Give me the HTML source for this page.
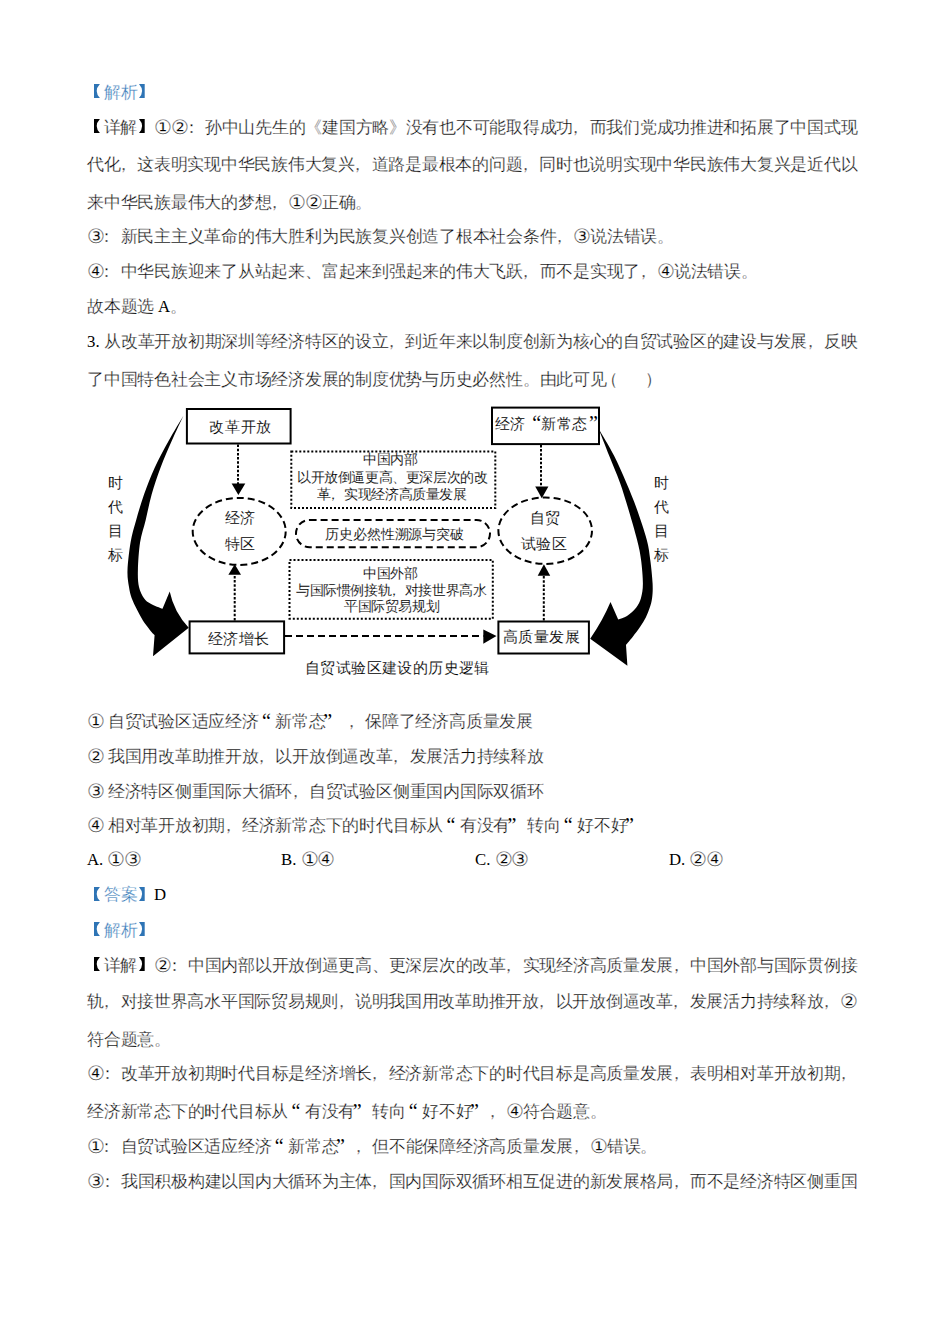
<!DOCTYPE html>
<html><head><meta charset="utf-8"><style>
html,body{margin:0;padding:0;background:#fff;width:950px;height:1344px;overflow:hidden}
body{position:relative;font-family:"Liberation Serif",serif;color:#000;-webkit-text-stroke:0.3px #fff}
.ln{position:absolute;left:87px;font-size:16.76px;line-height:20px;white-space:nowrap;letter-spacing:-0.24px}
.j{width:770px;text-align:justify;text-align-last:justify;letter-spacing:-0.6px}
.ln i{font-style:normal;font-size:20px;line-height:0;letter-spacing:-1.14px;position:relative;top:0.5px;-webkit-text-stroke:0.3px #fff}
.ln b{font-weight:normal;color:#2e74b5}
.ln em{font-style:normal;color:transparent;-webkit-text-stroke:0}
.br{position:absolute}
var{font-style:normal;position:relative;left:-5.5px}
.ln s{text-decoration:none;letter-spacing:0;-webkit-text-stroke:0}
.ql,.qr{display:inline-block;width:16.76px;text-decoration:none;letter-spacing:0;font-size:20px;line-height:0;-webkit-text-stroke:0;position:relative;top:1px}
.ql{text-align:right;padding-right:3px;box-sizing:border-box;left:-1.5px}
.qr{text-align:left;padding-left:0;box-sizing:border-box;left:-2.5px}
.dg{position:absolute;left:0;top:0}
.dt{position:absolute;-webkit-text-stroke:0.12px #fff;white-space:nowrap;font-size:15.4px;line-height:18px;letter-spacing:0.4px}
.ds{position:absolute;-webkit-text-stroke:0.12px #fff;white-space:nowrap;font-size:13.6px;line-height:17px;letter-spacing:-0.4px}
</style></head><body>
<div class="ln" style="top:83px"><b><em>【</em>解析<em>】</em></b></div>
<div class="ln j" style="top:118px"><em>【</em>详解<em>】</em><i>①</i><i>②</i><var>：</var>孙中山先生的《建国方略》没有也不可能取得成功<var>，</var>而我们党成功推进和拓展了中国式现</div>
<div class="ln j" style="top:155px">代化<var>，</var>这表明实现中华民族伟大复兴<var>，</var>道路是最根本的问题<var>，</var>同时也说明实现中华民族伟大复兴是近代以</div>
<div class="ln" style="top:193px">来中华民族最伟大的梦想<var>，</var><i>①</i><i>②</i>正确。</div>
<div class="ln" style="top:227px"><i>③</i><var>：</var>新民主主义革命的伟大胜利为民族复兴创造了根本社会条件<var>，</var><i>③</i>说法错误。</div>
<div class="ln" style="top:262px"><i>④</i><var>：</var>中华民族迎来了从站起来、富起来到强起来的伟大飞跃<var>，</var>而不是实现了<var>，</var><i>④</i>说法错误。</div>
<div class="ln" style="top:297px">故本题选 <s>A</s>。</div>
<div class="ln j" style="top:332px"><s>3. </s>从改革开放初期深圳等经济特区的设立<var>，</var>到近年来以制度创新为核心的自贸试验区的建设与发展<var>，</var>反映</div>
<div class="ln" style="top:370px">了中国特色社会主义市场经济发展的制度优势与历史必然性。由此可见<var>（</var><s style="margin-left:22px"></s>）</div>
<div class="ln" style="top:712px"><i>①</i> 自贸试验区适应经济<u class=ql>“</u>新常态<u class=qr>”</u><s style="margin-left:6px"></s><var>，</var>保障了经济高质量发展</div>
<div class="ln" style="top:747px"><i>②</i> 我国用改革助推开放<var>，</var>以开放倒逼改革<var>，</var>发展活力持续释放</div>
<div class="ln" style="top:782px"><i>③</i> 经济特区侧重国际大循环<var>，</var>自贸试验区侧重国内国际双循环</div>
<div class="ln" style="top:816px"><i>④</i> 相对革开放初期<var>，</var>经济新常态下的时代目标从<u class=ql>“</u>有没有<u class=qr>”</u>转向<u class=ql>“</u>好不好<u class=qr>”</u></div>
<div class="ln" style="top:885px"><b><em>【</em>答案<em>】</em></b><s>D</s></div>
<div class="ln" style="top:921px"><b><em>【</em>解析<em>】</em></b></div>
<div class="ln j" style="top:956px"><em>【</em>详解<em>】</em><i>②</i><var>：</var>中国内部以开放倒逼更高、更深层次的改革<var>，</var>实现经济高质量发展<var>，</var>中国外部与国际贯例接</div>
<div class="ln j" style="top:992px">轨<var>，</var>对接世界高水平国际贸易规则<var>，</var>说明我国用改革助推开放<var>，</var>以开放倒逼改革<var>，</var>发展活力持续释放<var>，</var><i>②</i></div>
<div class="ln" style="top:1030px">符合题意。</div>
<div class="ln j" style="top:1064px"><i>④</i><var>：</var>改革开放初期时代目标是经济增长<var>，</var>经济新常态下的时代目标是高质量发展<var>，</var>表明相对革开放初期<var>，</var></div>
<div class="ln" style="top:1102px">经济新常态下的时代目标从<u class=ql>“</u>有没有<u class=qr>”</u>转向<u class=ql>“</u>好不好<u class=qr>”</u><var>，</var><i>④</i>符合题意。</div>
<div class="ln" style="top:1137px"><i>①</i><var>：</var>自贸试验区适应经济<u class=ql>“</u>新常态<u class=qr>”</u><var>，</var>但不能保障经济高质量发展<var>，</var><i>①</i>错误。</div>
<div class="ln j" style="top:1172px"><i>③</i><var>：</var>我国积极构建以国内大循环为主体<var>，</var>国内国际双循环相互促进的新发展格局<var>，</var>而不是经济特区侧重国</div>
<svg class="br" style="left:94.3px;top:84.2px" width="6" height="14" viewBox="0 0 6 14"><path d="M0 0 H5.9 Q-0.5 7 5.9 14 H0 Z" fill="#2e74b5"/></svg>
<svg class="br" style="left:139.2px;top:84.2px" width="6" height="14" viewBox="0 0 6 14"><path d="M0 0 H5.7 V14 H0 Q6.2 7 0 0 Z" fill="#2e74b5"/></svg>
<svg class="br" style="left:94.3px;top:119.0px" width="6" height="14" viewBox="0 0 6 14"><path d="M0 0 H5.9 Q-0.5 7 5.9 14 H0 Z" fill="#000"/></svg>
<svg class="br" style="left:139.2px;top:119.0px" width="6" height="14" viewBox="0 0 6 14"><path d="M0 0 H5.7 V14 H0 Q6.2 7 0 0 Z" fill="#000"/></svg>
<svg class="br" style="left:94.3px;top:886.9px" width="6" height="14" viewBox="0 0 6 14"><path d="M0 0 H5.9 Q-0.5 7 5.9 14 H0 Z" fill="#2e74b5"/></svg>
<svg class="br" style="left:139.2px;top:886.9px" width="6" height="14" viewBox="0 0 6 14"><path d="M0 0 H5.7 V14 H0 Q6.2 7 0 0 Z" fill="#2e74b5"/></svg>
<svg class="br" style="left:94.3px;top:922.3px" width="6" height="14" viewBox="0 0 6 14"><path d="M0 0 H5.9 Q-0.5 7 5.9 14 H0 Z" fill="#2e74b5"/></svg>
<svg class="br" style="left:139.2px;top:922.3px" width="6" height="14" viewBox="0 0 6 14"><path d="M0 0 H5.7 V14 H0 Q6.2 7 0 0 Z" fill="#2e74b5"/></svg>
<svg class="br" style="left:94.3px;top:956.7px" width="6" height="14" viewBox="0 0 6 14"><path d="M0 0 H5.9 Q-0.5 7 5.9 14 H0 Z" fill="#000"/></svg>
<svg class="br" style="left:139.2px;top:956.7px" width="6" height="14" viewBox="0 0 6 14"><path d="M0 0 H5.7 V14 H0 Q6.2 7 0 0 Z" fill="#000"/></svg>
<div class="ln" style="top:850px;left:87px"><s>A. </s><i>①</i><i>③</i></div>
<div class="ln" style="top:850px;left:281px"><s>B. </s><i>①</i><i>④</i></div>
<div class="ln" style="top:850px;left:475px"><s>C. </s><i>②</i><i>③</i></div>
<div class="ln" style="top:850px;left:669px"><s>D. </s><i>②</i><i>④</i></div>
<svg class="dg" width="950" height="700" viewBox="0 0 950 700">
 <g fill="none" stroke="#000">
  <rect x="186.9" y="409" width="103.7" height="34.5" stroke-width="2"/>
  <rect x="492" y="407.6" width="107" height="36.5" stroke-width="2"/>
  <rect x="189.6" y="621.4" width="94.5" height="32" stroke-width="2"/>
  <rect x="498.4" y="621.5" width="90.5" height="32" stroke-width="2"/>
  <ellipse cx="239.2" cy="531.4" rx="46.5" ry="33.5" stroke-width="2" stroke-dasharray="7 4"/>
  <ellipse cx="545.2" cy="530.7" rx="46.8" ry="33.2" stroke-width="2" stroke-dasharray="7 4"/>
  <rect x="296" y="519.9" width="194" height="27.3" rx="13.6" stroke-width="2" stroke-dasharray="7 4"/>
  <rect x="291.3" y="451.4" width="204" height="56.7" stroke-width="2" stroke-dasharray="2 2"/>
  <rect x="289.5" y="560.1" width="203.3" height="58.7" stroke-width="2" stroke-dasharray="2 2"/>
  <line x1="238" y1="444.5" x2="238" y2="484" stroke-width="2" stroke-dasharray="2.5 1.7"/>
  <line x1="541" y1="444.9" x2="541" y2="487" stroke-width="2" stroke-dasharray="2.5 1.7"/>
  <line x1="234.7" y1="620.4" x2="234.7" y2="575" stroke-width="2" stroke-dasharray="2.5 1.7"/>
  <line x1="543.8" y1="620.5" x2="543.8" y2="576" stroke-width="2" stroke-dasharray="2.5 1.7"/>
  <line x1="285" y1="635.9" x2="483.5" y2="635.9" stroke-width="2" stroke-dasharray="7 4"/>
 </g>
 <g fill="#000">
  <path d="M231.6 483.4 L245.3 483.4 L238.4 495 Z"/>
  <path d="M535.2 486.6 L548.4 486.6 L541.8 498.2 Z"/>
  <path d="M228.4 574.7 L241 574.7 L234.7 564.2 Z"/>
  <path d="M537.7 575.8 L550.2 575.8 L543.9 564.3 Z"/>
  <path d="M483.3 629.5 L496.5 635.9 L483.3 643.8 Z"/>
  <path d="M183.4 415.7 C180.9 419.9 173.5 432.1 168.7 440.7 C163.9 449.3 158.9 458.6 154.8 467.5 C150.7 476.4 147.2 485.6 144.1 494.3 C141.0 503.1 138.4 512.0 136.2 520.0 C133.9 528.0 132.0 533.9 130.6 542.3 C129.2 550.7 127.8 562.8 127.5 570.2 C127.2 577.7 128.3 582.3 129.0 587.0 C129.7 591.7 130.4 594.5 131.7 598.2 C133.0 601.9 134.9 605.6 136.8 609.3 C138.7 613.0 140.5 616.8 142.9 620.5 C145.3 624.2 149.4 629.3 151.3 631.7 C153.2 634.1 154.1 634.5 154.6 635.0 L153 656.2 L188.7 627.7 Q174 612 169.7 591.5 L162.5 608.8 C160.5 607.9 153.8 605.5 150.7 603.7 C147.6 601.9 145.9 601.0 144.0 598.2 C142.1 595.4 140.0 591.7 139.0 587.0 C138.0 582.3 137.7 577.7 137.9 570.2 C138.1 562.8 138.8 550.7 140.1 542.3 C141.4 533.9 143.8 528.0 145.7 520.0 C147.6 512.0 149.2 503.1 151.7 494.3 C154.2 485.6 157.2 476.4 160.6 467.5 C163.9 458.6 168.0 449.3 171.8 440.7 C175.6 432.1 181.5 419.9 183.4 415.7 Z"/>
  <path d="M598.5 428.5 C601.1 433.0 609.5 446.7 614.1 455.7 C618.7 464.7 622.4 473.6 626.2 482.5 C630.0 491.4 633.5 499.7 636.9 509.3 C640.3 518.9 644.6 531.6 646.8 540.0 C649.0 548.4 649.2 552.1 650.2 559.4 C651.2 566.7 652.3 577.2 652.6 583.6 C652.9 590.0 652.6 594.0 652.1 598.0 C651.6 602.0 650.8 604.6 649.7 607.8 C648.7 611.0 647.4 614.2 645.8 617.4 C644.2 620.6 642.2 623.9 640.0 627.1 C637.8 630.3 635.1 633.8 632.8 636.8 C630.5 639.8 627.1 643.6 626.0 645.0 L627.4 665.8 L590.2 638.7 Q603 620 610.5 602 L618.2 619.4 C619.7 618.8 624.0 617.9 627.0 616.0 C630.0 614.1 633.8 610.8 636.1 607.8 C638.4 604.8 639.9 602.0 641.0 598.0 C642.1 594.0 642.9 590.0 642.9 583.6 C642.9 577.2 642.0 566.7 641.0 559.4 C640.0 552.1 639.2 548.4 637.1 540.0 C635.0 531.6 631.3 518.9 628.4 509.3 C625.5 499.7 623.1 491.4 619.9 482.5 C616.7 473.6 612.8 464.7 609.2 455.7 C605.6 446.7 600.3 433.0 598.5 428.5 Z"/>
 </g>
</svg>
<div class="dt" style="left:209px;top:418px;letter-spacing:0.8px">改革开放</div>
<div class="dt" style="left:495px;top:415px">经济<u class=ql style="width:15.4px;padding-right:1px;left:1px">“</u>新常态<u class=qr style="width:15.4px;left:1.5px">”</u></div>
<div class="dt" style="left:208px;top:630px">经济增长</div>
<div class="dt" style="left:503px;top:628px">高质量发展</div>
<div class="dt" style="left:225px;top:509px">经济</div>
<div class="dt" style="left:225px;top:535px">特区</div>
<div class="dt" style="left:530px;top:509px">自贸</div>
<div class="dt" style="left:521px;top:535px">试验区</div>
<div class="ds" style="left:325px;top:526px;font-size:13.9px;letter-spacing:-0.1px">历史必然性溯源与突破</div>
<div class="dt" style="left:305px;top:659px">自贸试验区建设的历史逻辑</div>
<div class="ds" style="left:363px;top:451px">中国内部</div>
<div class="ds" style="left:297px;top:469px">以开放倒逼更高、更深层次的改</div>
<div class="ds" style="left:317px;top:486px">革<var style="left:-4.5px">，</var>实现经济高质量发展</div>
<div class="ds" style="left:363px;top:565px">中国外部</div>
<div class="ds" style="left:296px;top:582px">与国际惯例接轨<var style="left:-4.5px">，</var>对接世界高水</div>
<div class="ds" style="left:344px;top:598px">平国际贸易规划</div>
<div class="dt" style="left:108px;top:471px;line-height:24.1px;width:17px;white-space:normal;letter-spacing:0">时代目标</div>
<div class="dt" style="left:654px;top:471px;line-height:24.1px;width:17px;white-space:normal;letter-spacing:0">时代目标</div>

</body></html>
